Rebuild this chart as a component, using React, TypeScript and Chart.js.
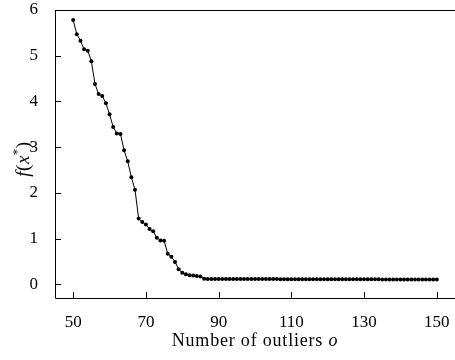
import { useEffect, useRef } from "react";
import { Chart, registerables } from "chart.js";

Chart.register(...registerables);

const outliers = [
  50, 51, 52, 53, 54, 55, 56, 57, 58, 59, 60, 61, 62, 63, 64, 65, 66, 67, 68, 69,
  70, 71, 72, 73, 74, 75, 76, 77, 78, 79, 80, 81, 82, 83, 84, 85, 86, 87, 88, 89,
  90, 91, 92, 93, 94, 95, 96, 97, 98, 99, 100, 101, 102, 103, 104, 105, 106, 107, 108, 109,
  110, 111, 112, 113, 114, 115, 116, 117, 118, 119, 120, 121, 122, 123, 124, 125, 126, 127, 128, 129,
  130, 131, 132, 133, 134, 135, 136, 137, 138, 139, 140, 141, 142, 143, 144, 145, 146, 147, 148, 149,
  150,
];

const fValues = [
  5.78, 5.47, 5.33, 5.14, 5.11, 4.88, 4.38, 4.16, 4.12, 3.96,
  3.72, 3.44, 3.3, 3.29, 2.93, 2.69, 2.34, 2.07, 1.44, 1.36,
  1.31, 1.21, 1.16, 1.02, 0.96, 0.95, 0.67, 0.6, 0.49, 0.33,
  0.25, 0.22, 0.2, 0.19, 0.18, 0.17, 0.12, 0.115, 0.115, 0.115,
  0.115, 0.115, 0.115, 0.115, 0.115, 0.114, 0.114, 0.114, 0.114, 0.114,
  0.114, 0.113, 0.113, 0.113, 0.113, 0.113, 0.113, 0.112, 0.112, 0.112,
  0.112, 0.112, 0.112, 0.111, 0.111, 0.111, 0.111, 0.111, 0.111, 0.11,
  0.11, 0.11, 0.11, 0.11, 0.11, 0.109, 0.109, 0.109, 0.109, 0.109,
  0.108, 0.108, 0.108, 0.108, 0.108, 0.107, 0.107, 0.107, 0.107, 0.106,
  0.106, 0.106, 0.106, 0.105, 0.105, 0.105, 0.105, 0.104, 0.104, 0.104,
  0.104,
];

const xTicks = [50, 70, 90, 110, 130, 150];
const yTicks = [0, 1, 2, 3, 4, 5, 6];

const xTitle = [
  { t: "Number of outliers ", it: false },
  { t: "o", it: true },
];
const yTitle = [
  { t: "f", it: true },
  { t: "(", it: false },
  { t: "x", it: true },
  { t: "*", it: false, sup: true },
  { t: ")", it: false },
];

const FAMILY = '"Liberation Serif", "DejaVu Serif", serif';
const FS = 17;

type Seg = { t: string; it: boolean; sup?: boolean };

function drawSegs(
  ctx: CanvasRenderingContext2D,
  segs: Seg[],
  cx: number,
  cy: number,
  size: number,
  spacing: number
) {
  const fontOf = (s: Seg) =>
    `${s.it ? "italic " : ""}${s.sup ? Math.round(size * 0.7) : size}px ${FAMILY}`;
  (ctx as any).letterSpacing = `${spacing}px`;
  let w = 0;
  for (const s of segs) {
    ctx.font = fontOf(s);
    w += ctx.measureText(s.t).width;
  }
  let x = cx - w / 2;
  ctx.textBaseline = "middle";
  ctx.textAlign = "left";
  for (const s of segs) {
    ctx.font = fontOf(s);
    ctx.fillText(s.t, x, s.sup ? cy - size * 0.35 : cy);
    x += ctx.measureText(s.t).width;
  }
  (ctx as any).letterSpacing = "0px";
}

const framePlugin = {
  id: "frameTicks",
  afterDraw(chart: any) {
    const { ctx, chartArea } = chart;
    const { left, right, top, bottom } = chartArea;
    const xs = chart.scales.x;
    const ys = chart.scales.y;
    ctx.save();
    ctx.strokeStyle = "#000";
    ctx.lineWidth = 1;
    ctx.beginPath();
    ctx.moveTo(left + 0.5, top + 0.5);
    ctx.lineTo(right + 2, top + 0.5);
    ctx.moveTo(left + 0.5, top + 0.5);
    ctx.lineTo(left + 0.5, bottom + 0.5);
    ctx.lineTo(right + 2, bottom + 0.5);
    ctx.stroke();
    ctx.beginPath();
    for (const v of xTicks) {
      const px = Math.round(xs.getPixelForValue(v)) + 0.5;
      ctx.moveTo(px, bottom);
      ctx.lineTo(px, bottom - 6);
    }
    for (const v of yTicks) {
      const py = Math.round(ys.getPixelForValue(v)) + 0.5;
      ctx.moveTo(left, py);
      ctx.lineTo(left + 6, py);
    }
    ctx.stroke();
    ctx.fillStyle = "#000";
    drawSegs(ctx, xTitle, (left + right) / 2, 341, 18, 0.8);
    ctx.translate(24, (top + bottom) / 2 + 5);
    ctx.rotate(-Math.PI / 2);
    drawSegs(ctx, yTitle, 0, 0, 19, 0.5);
    ctx.restore();
  },
};

const noPad = (s: any) => {
  s.paddingTop = 0;
  s.paddingBottom = 0;
  s.paddingLeft = 0;
  s.paddingRight = 0;
};

export default function App() {
  const ref = useRef<HTMLCanvasElement | null>(null);
  useEffect(() => {
    if (!ref.current) return;
    const chart = new Chart(ref.current, {
      type: "line",
      data: {
        datasets: [
          {
            data: outliers.map((x, i) => ({ x, y: fValues[i] })),
            borderColor: "#000",
            borderWidth: 1,
            pointRadius: 2,
            pointBackgroundColor: "#000",
            pointBorderWidth: 0,
            tension: 0,
          },
        ],
      },
      options: {
        animation: false,
        responsive: false,
        layout: { autoPadding: false, padding: { top: 10, right: 0, left: 0, bottom: 0 } },
        plugins: { legend: { display: false }, tooltip: { enabled: false } },
        scales: {
          x: {
            type: "linear",
            min: 45,
            max: 155,
            afterBuildTicks: (s: any) => {
              s.ticks = xTicks.map((v) => ({ value: v }));
            },
            afterFit: (s: any) => {
              s.height = 62;
              noPad(s);
            },
            grid: { display: false },
            border: { display: false },
            ticks: {
              color: "#000",
              font: { family: FAMILY, size: FS },
              padding: 6,
              maxRotation: 0,
              autoSkip: false,
            },
          },
          y: {
            type: "linear",
            min: -0.3,
            max: 6,
            afterBuildTicks: (s: any) => {
              s.ticks = yTicks.map((v) => ({ value: v }));
            },
            afterFit: (s: any) => {
              s.width = 55;
              noPad(s);
            },
            grid: { display: false },
            border: { display: false },
            ticks: {
              color: "#000",
              font: { family: FAMILY, size: FS },
              padding: 9,
              autoSkip: false,
            },
          },
        },
      },
      plugins: [framePlugin],
    } as any);
    return () => chart.destroy();
  }, []);
  return (
    <div style={{ position: "fixed", left: 0, top: 0, width: 455, height: 360, background: "#fff" }}>
      <canvas ref={ref} width={455} height={360} style={{ display: "block" }} />
    </div>
  );
}
